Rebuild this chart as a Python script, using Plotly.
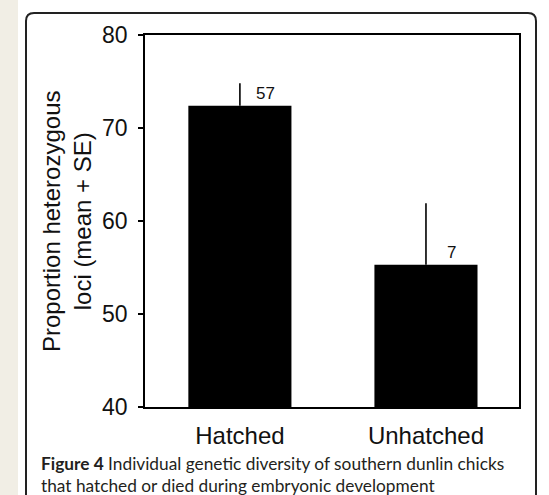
import plotly.graph_objects as go

categories = ["Hatched", "Unhatched"]
means = [72.4, 55.3]
se = [2.4, 6.6]
n_labels = ["57", "7"]
y_ticks = [40, 50, 60, 70, 80]

W, H = 549, 495
L, R, T, B = 145, 519, 35, 407  # plot area in px

def px(x):
    return (x - L) / (R - L)

def py(y):
    return (B - y) / (B - T)

xs = list(range(len(categories)))

fig = go.Figure()
fig.add_trace(go.Bar(
    x=xs, y=means,
    marker=dict(color="black", line=dict(width=0)),
    error_y=dict(type="data", array=se, arrayminus=[0] * len(se), symmetric=False,
                 width=0, thickness=1.6, color="black"),
))

annotations = []
for i, lab in enumerate(n_labels):
    annotations.append(dict(
        x=xs[i] + 0.135, y=means[i], xref="x", yref="y", text=lab, showarrow=False,
        xanchor="center", yanchor="bottom", yshift=1,
        font=dict(family="Liberation Sans, Arial", size=17, color="#111")))

annotations.append(dict(
    x=px(67), y=0.5, xref="paper", yref="paper", textangle=-90,
    text="Proportion heterozygous<br>loci (mean + SE)", showarrow=False,
    xanchor="center", yanchor="middle",
    font=dict(family="Liberation Sans, Arial", size=24, color="#111")))

annotations.append(dict(
    x=px(39), y=py(474), xref="paper", yref="paper", align="left",
    text="<b>Figure 4</b> Individual genetic diversity of southern dunlin chicks<br>that hatched or died during embryonic development",
    showarrow=False, xanchor="left", yanchor="middle",
    font=dict(family="Lato, Open Sans", size=17.3, color="#231f20")))

# decorative page background and frame
shapes = [
    dict(type="rect", xref="paper", yref="paper", x0=px(-5), x1=px(18), y0=py(505), y1=py(-5),
         fillcolor="#f1eee5", line=dict(width=0), layer="below"),
    dict(type="path", xref="paper", yref="paper",
         path=(f"M {px(26)},{py(505)} L {px(26)},{py(21)} Q {px(26)},{py(13)} {px(34)},{py(13)} "
               f"L {px(528)},{py(13)} Q {px(536)},{py(13)} {px(536)},{py(21)} L {px(536)},{py(505)}"),
         line=dict(color="#222", width=2), layer="below"),
]

fig.update_layout(
    width=W, height=H,
    margin=dict(l=L, r=W - R, t=T, b=H - B, pad=0),
    paper_bgcolor="white", plot_bgcolor="white",
    showlegend=False, bargap=0.446,
    annotations=annotations, shapes=shapes,
    font=dict(family="Liberation Sans, Arial", color="#111"),
)
fig.update_xaxes(
    range=[-0.51, 1.5], tickvals=xs, ticktext=categories, ticks="",
    showline=True, linecolor="black", linewidth=1.6, mirror=True,
    showgrid=False, zeroline=False, ticklabelstandoff=6,
    tickfont=dict(family="Liberation Sans, Arial", size=24, color="#111"),
)
fig.update_yaxes(
    range=[40, 80], tickvals=y_ticks, ticks="outside", ticklen=5, tickwidth=1.6, tickcolor="black",
    showline=True, linecolor="black", linewidth=1.6, mirror=True,
    showgrid=False, zeroline=False, ticklabelstandoff=6,
    tickfont=dict(family="Liberation Sans, Arial", size=23, color="#111"),
)

fig.write_html(
    "out.html",
    config={"displayModeBar": False},
    post_script="document.body.style.margin='0';document.body.style.overflow='hidden';",
)
